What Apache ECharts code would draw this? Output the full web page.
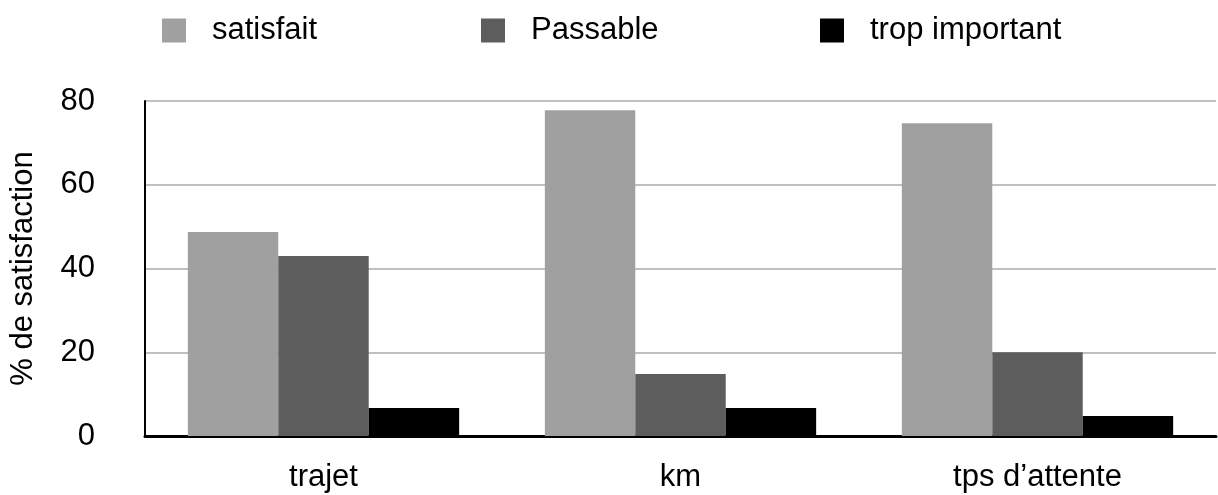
<!DOCTYPE html>
<html>
<head>
<meta charset="utf-8">
<script src="https://cdn.jsdelivr.net/npm/echarts@6/dist/echarts.min.js"></script>
<style>html,body{margin:0;padding:0;background:#fff}#c{width:1218px;height:495px}</style>
</head>
<body>
<div id="c"></div>
<script>
const categories = ['trajet', 'km', 'tps d\u2019attente'];
const seriesNames = ['satisfait', 'Passable', 'trop important'];
const satisfait = [48.7, 77.8, 74.7];
const passable = [43.0, 14.8, 20.0];
const tropImportant = [6.7, 6.7, 4.8];
const yTicks = [0, 20, 40, 60, 80];

const colors = ['#a0a0a0', '#5d5d5d', '#000000'];
const font = 'Liberation Sans, Arial, Helvetica, sans-serif';
const legendLefts = [162, 481, 820];

const chart = echarts.init(document.getElementById('c'), null, {renderer: 'canvas'});
chart.setOption({
  animation: false,
  color: colors,
  legend: seriesNames.map((n, i) => ({
    data: [n],
    left: legendLefts[i],
    top: 15,
    padding: 0,
    itemWidth: 24,
    itemHeight: 24,
    itemGap: 0,
    icon: 'rect',
    textStyle: {fontFamily: font, fontSize: 31, color: '#000', padding: [0, 0, 0, 21]}
  })),
  grid: {left: 145, right: 2, top: 101, bottom: 59, containLabel: false},
  xAxis: {
    type: 'category',
    data: categories,
    axisLine: {lineStyle: {color: '#000', width: 3}},
    axisTick: {show: false},
    axisLabel: {fontFamily: font, fontSize: 31, color: '#000', margin: 26}
  },
  yAxis: {
    type: 'value',
    min: yTicks[0],
    max: yTicks[yTicks.length - 1],
    interval: 20,
    name: '% de satisfaction',
    nameLocation: 'middle',
    nameGap: 106,
    nameTextStyle: {fontFamily: font, fontSize: 31, color: '#000'},
    axisLine: {show: true, lineStyle: {color: '#000', width: 2}},
    axisTick: {show: false},
    axisLabel: {fontFamily: font, fontSize: 31, color: '#000', margin: 50},
    splitLine: {lineStyle: {color: '#c0c0c0', width: 2}}
  },
  series: [
    {name: seriesNames[0], type: 'bar', data: satisfait, barGap: '0%', barCategoryGap: '24%'},
    {name: seriesNames[1], type: 'bar', data: passable, barGap: '0%', barCategoryGap: '24%'},
    {name: seriesNames[2], type: 'bar', data: tropImportant, barGap: '0%', barCategoryGap: '24%'}
  ]
});
</script>
</body>
</html>
